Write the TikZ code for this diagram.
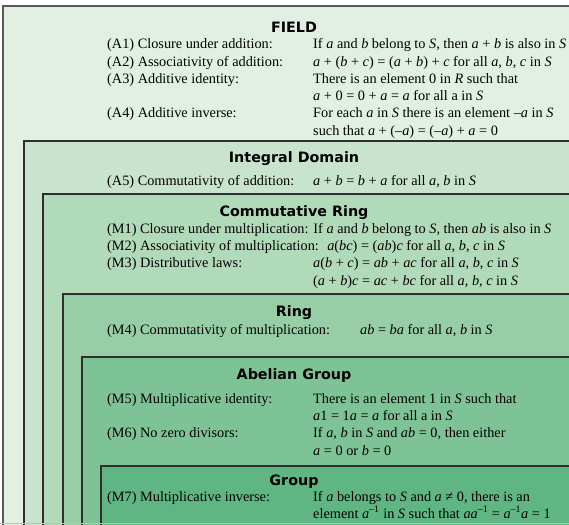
\documentclass[tikz,border=0pt]{standalone}
\usepackage{fontspec}
\setmainfont{Liberation Serif}
\newfontfamily\titlefont{DejaVu Sans Bold}
\definecolor{cA}{HTML}{E1F0E3}
\definecolor{cB}{HTML}{C9E4CE}
\definecolor{cC}{HTML}{B1DAB9}
\definecolor{cD}{HTML}{98CEA6}
\definecolor{cE}{HTML}{7EC395}
\definecolor{cF}{HTML}{60B682}
\newcommand{\vi}[1]{\textit{#1}}
\newcommand{\inv}{\textsuperscript{–1}}
\begin{document}
\begin{tikzpicture}[x=1pt,y=-1pt,
  lab/.style={anchor=base west, inner sep=0pt, font=\fontsize{14.3}{16}\selectfont},
  ttl/.style={anchor=base, inner sep=0pt, font=\titlefont\fontsize{14.3}{16}\selectfont},
  box/.style={draw=black!82, line width=1.4pt}]
\useasboundingbox (0,0) rectangle (569,524);
\begin{scope}
\clip (0,0) rectangle (569,524);
\fill[white] (0,0) rectangle (569,524);
\draw[box, fill=cA, draw=black!65, line width=1.8pt] (3,6) rectangle (620,600);
\draw[box, fill=cB] (24,141) rectangle (620,600);
\draw[box, fill=cC] (43,194) rectangle (620,600);
\draw[box, fill=cD] (63,294) rectangle (620,600);
\draw[box, fill=cE] (82,357) rectangle (620,600);
\draw[box, fill=cF] (101,466) rectangle (620,600);
\fill[black!25] (0,522.5) rectangle (569,524);
\end{scope}
% FIELD
\node[ttl] (tField) at (294,33) {FIELD};
\node[lab] (a1l) at (107,49) {(A1) Closure under addition:};
\node[lab] (a1r) at (313,49) {If \vi{a} and \vi{b} belong to \vi{S}, then \vi{a} + \vi{b} is also in \vi{S}};
\node[lab] (a2l) at (107,66.2) {(A2) Associativity of addition:};
\node[lab] (a2r) at (313,66.2) {\vi{a} + (\vi{b} + \vi{c}) = (\vi{a} + \vi{b}) + \vi{c} for all \vi{a}, \vi{b}, \vi{c} in \vi{S}};
\node[lab] (a3l) at (107,83.4) {(A3) Additive identity:};
\node[lab] (a3r) at (313,83.4) {There is an element 0 in \vi{R} such that};
\node[lab] (a3s) at (313,100.6) {\vi{a} + 0 = 0 + \vi{a} = \vi{a} for all a in \vi{S}};
\node[lab] (a4l) at (107,117.8) {(A4) Additive inverse:};
\node[lab] (a4r) at (313,117.8) {For each \vi{a} in \vi{S} there is an element –\vi{a} in \vi{S}};
\node[lab] (a4s) at (313,135) {such that \vi{a} + (–\vi{a}) = (–\vi{a}) + \vi{a} = 0};
% Integral Domain
\node[ttl] (tID) at (294,162) {Integral Domain};
\node[lab] (a5l) at (107,185) {(A5) Commutativity of addition:};
\node[lab] (a5r) at (313,185) {\vi{a} + \vi{b} = \vi{b} + \vi{a} for all \vi{a}, \vi{b} in \vi{S}};
% Commutative Ring
\node[ttl] (tCR) at (294,216) {Commutative Ring};
\node[lab] (m1l) at (107,233) {(M1) Closure under multiplication:};
\node[lab] (m1r) at ([xshift=4.5pt]m1l.base east) {If \vi{a} and \vi{b} belong to \vi{S}, then \vi{ab} is also in \vi{S}};
\node[lab] (m2l) at (107,250.3) {(M2) Associativity of multiplication:};
\node[lab] (m2r) at ([xshift=8pt]m2l.base east) {\vi{a}(\vi{bc}) = (\vi{ab})\vi{c} for all \vi{a}, \vi{b}, \vi{c} in \vi{S}};
\node[lab] (m3l) at (107,267.6) {(M3) Distributive laws:};
\node[lab] (m3r) at (313,267.6) {\vi{a}(\vi{b} + \vi{c}) = \vi{ab} + \vi{ac} for all \vi{a}, \vi{b}, \vi{c} in \vi{S}};
\node[lab] (m3s) at (313,285) {(\vi{a} + \vi{b})\vi{c} = \vi{ac} + \vi{bc} for all \vi{a}, \vi{b}, \vi{c} in \vi{S}};
% Ring
\node[ttl] (tR) at (294,316) {Ring};
\node[lab] (m4l) at (107,334.5) {(M4) Commutativity of multiplication:};
\node[lab] (m4r) at (360,334.5) {\vi{ab} = \vi{ba} for all \vi{a}, \vi{b} in \vi{S}};
% Abelian Group
\node[ttl] (tAG) at (294,379) {Abelian Group};
\node[lab] (m5l) at (107,403) {(M5) Multiplicative identity:};
\node[lab] (m5r) at (313,403) {There is an element 1 in \vi{S} such that};
\node[lab] (m5s) at (313,420.3) {\vi{a}1 = 1\vi{a} = \vi{a} for all a in \vi{S}};
\node[lab] (m6l) at (107,437.6) {(M6) No zero divisors:};
\node[lab] (m6r) at (313,437.6) {If \vi{a}, \vi{b} in \vi{S} and \vi{ab} = 0, then either};
\node[lab] (m6s) at (313,455) {\vi{a} = 0 or \vi{b} = 0};
% Group
\node[ttl] (tG) at (294,485.5) {Group};
\node[lab] (m7l) at (107,501) {(M7) Multiplicative inverse:};
\node[lab] (m7r) at (313,501) {If \vi{a} belongs to \vi{S} and \vi{a} ≠ 0, there is an};
\node[lab] (m7s) at (313,518) {element \vi{a}\inv{} in \vi{S} such that \vi{aa}\inv{} = \vi{a}\inv\vi{a} = 1};
\end{tikzpicture}
\end{document}
